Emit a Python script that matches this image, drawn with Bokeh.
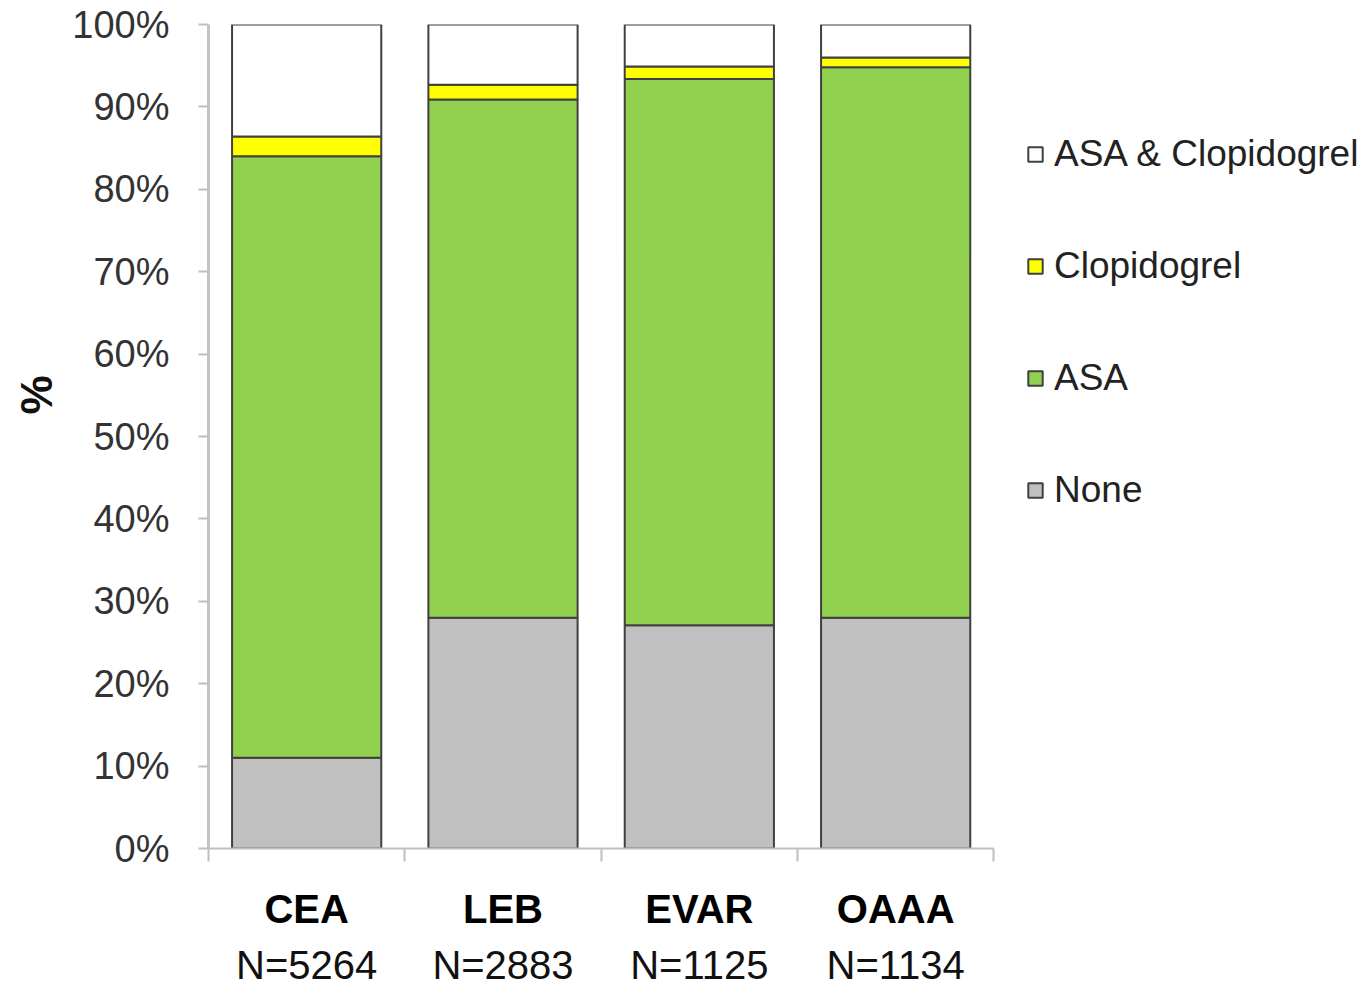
import math
from bokeh.plotting import figure
from bokeh.models import (ColumnDataSource, Range1d, FixedTicker, LinearAxis, Legend,
                          LegendItem, Title, PrintfTickFormatter, CustomJSTickFormatter, Grid)
from bokeh.embed import file_html
from bokeh.resources import INLINE

# ---- data ----
categories = ["CEA", "LEB", "EVAR", "OAAA"]
n_labels = ["N=5264", "N=2883", "N=1125", "N=1134"]
none_pct = [11.0, 28.0, 27.1, 28.0]
asa_pct = [73.0, 62.9, 66.3, 66.8]
clop_pct = [2.4, 1.8, 1.5, 1.2]
both_pct = [13.6, 7.3, 5.1, 4.0]
series_names = ["None", "ASA", "Clopidogrel", "ASA & Clopidogrel"]
series_keys = ["none", "asa", "clop", "both"]
series_colors = ["#C0C0C0", "#92D050", "#FFFF00", "#FFFFFF"]
y_ticks = list(range(0, 101, 10))

ncat = len(categories)
xpos = [i + 0.5 for i in range(ncat)]
bounds = list(range(ncat + 1))

source = ColumnDataSource(dict(x=xpos, cat=categories, none=none_pct, asa=asa_pct,
                               clop=clop_pct, both=both_pct))

FONT = "Liberation Sans"
W, H = 1370, 990
LEFT, TOP, BOTTOM = 207, 24, 142
AXIS_RIGHT_PX = 993  # where the category axis ends
frame_w = W - LEFT
x_max = ncat * frame_w / (AXIS_RIGHT_PX - LEFT)

p = figure(width=W, height=H, x_range=Range1d(0, x_max), y_range=Range1d(0, 100),
           output_backend="svg", toolbar_location=None,
           x_axis_location=None, y_axis_location=None,
           min_border_left=LEFT, min_border_right=0, min_border_top=TOP, min_border_bottom=BOTTOM)
p.outline_line_color = None
p.background_fill_color = "white"
p.border_fill_color = "white"
for r in list(p.center):
    if isinstance(r, Grid):
        r.visible = False

renderers = p.vbar_stack(series_keys, x="x", width=0.76, source=source,
                         fill_color=series_colors, line_color="#404040", line_width=2)

# y axis
yax = LinearAxis(ticker=FixedTicker(ticks=y_ticks), formatter=PrintfTickFormatter(format="%d%%"))
yax.axis_line_color = "#C4C4C4"
yax.axis_line_width = 3
yax.major_tick_line_color = "#BFBFBF"
yax.major_tick_line_width = 2
yax.major_tick_out = 10
yax.major_tick_in = 0
yax.minor_tick_line_color = None
yax.major_label_standoff = 29
yax.major_label_text_font = FONT
yax.major_label_text_font_size = "38px"
yax.major_label_text_color = "#333333"
p.add_layout(yax, "left")

# y axis title
ytitle = Title(text="%", align="right", offset=351, standoff=18,
               text_font=FONT, text_font_style="bold", text_font_size="44px",
               text_color="#111111")
p.add_layout(ytitle, "left")

# x axis 1: bold category labels, boundary ticks
xax1 = LinearAxis(ticker=FixedTicker(ticks=xpos, minor_ticks=bounds), bounds=(0, ncat),
                  formatter=CustomJSTickFormatter(args=dict(labels=categories),
                                                  code="return labels[Math.floor(tick)]"))
xax1.axis_line_color = "#BFBFBF"
xax1.axis_line_width = 2
xax1.major_tick_line_color = None
xax1.major_tick_out = 0
xax1.major_tick_in = 0
xax1.minor_tick_line_color = "#BFBFBF"
xax1.minor_tick_line_width = 2
xax1.minor_tick_out = 13
xax1.minor_tick_in = 0
xax1.major_label_standoff = 25
xax1.major_label_text_font = FONT
xax1.major_label_text_font_style = "bold"
xax1.major_label_text_font_size = "40px"
xax1.major_label_text_color = "#000000"
p.add_layout(xax1, "below")

# x axis 2: N labels
xax2 = LinearAxis(ticker=FixedTicker(ticks=xpos),
                  formatter=CustomJSTickFormatter(args=dict(labels=n_labels),
                                                  code="return labels[Math.floor(tick)]"))
xax2.axis_line_color = None
xax2.major_tick_line_color = None
xax2.minor_tick_line_color = None
xax2.major_tick_out = 0
xax2.major_tick_in = 0
xax2.major_label_standoff = 9
xax2.major_label_text_font = FONT
xax2.major_label_text_font_size = "40px"
xax2.major_label_text_color = "#111111"
p.add_layout(xax2, "below")

# legend
order = [3, 2, 1, 0]
items = [LegendItem(label=series_names[i], renderers=[renderers[i]]) for i in order]
legend = Legend(items=items, location=(818, 337), orientation="vertical", padding=0, margin=0,
                spacing=70, glyph_width=18, glyph_height=18, label_height=40, label_standoff=10,
                label_text_font=FONT, label_text_font_size="37px", label_text_color="#222222",
                border_line_color=None, background_fill_alpha=0)
p.add_layout(legend)

open("out.html", "w").write(file_html(p, INLINE))
